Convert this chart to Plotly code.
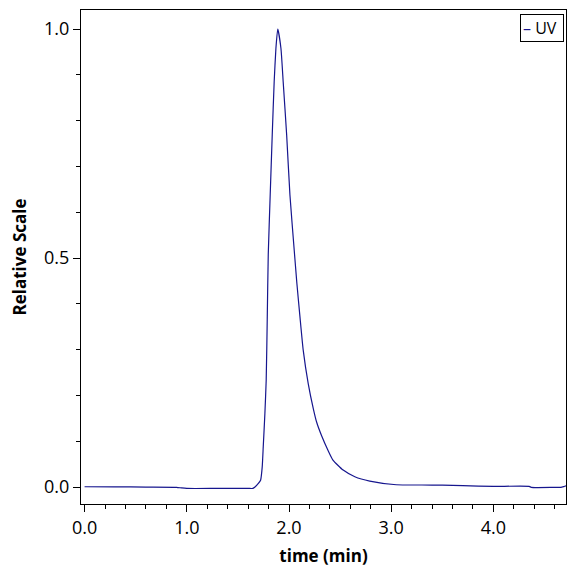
import plotly.graph_objects as go

# Data (UV trace, relative scale)
time_min = [0.0, 0.3, 0.6, 0.9, 0.95, 1.0, 1.3, 1.6, 1.647, 1.667, 1.70, 1.722,
            1.738, 1.748, 1.764, 1.777, 1.787, 1.797, 1.816, 1.836, 1.855, 1.872,
            1.89, 1.921, 1.943, 1.977, 2.009, 2.051, 2.077, 2.107, 2.139, 2.188,
            2.237, 2.27, 2.319, 2.38, 2.43, 2.53, 2.644, 2.79, 3.05, 3.3, 3.5,
            3.7, 4.0, 4.35, 4.37, 4.6, 4.66, 4.69, 4.72]
uv_signal = [0.0007, 0.0005, 0.0, -0.0005, -0.002, -0.003, -0.003, -0.003, -0.003,
             0.0, 0.008, 0.015, 0.044, 0.088, 0.16, 0.234, 0.365, 0.507, 0.638,
             0.769, 0.885, 0.958, 1.0, 0.958, 0.885, 0.769, 0.638, 0.517, 0.445,
             0.372, 0.299, 0.226, 0.172, 0.142, 0.112, 0.081, 0.059, 0.037,
             0.0225, 0.013, 0.005, 0.0045, 0.004, 0.003, 0.0015, 0.0015,
             -0.0007, -0.0007, -0.0007, 0.001, 0.003]

x_ticks = [0, 1, 2, 3, 4]
x_tick_labels = ["0.0", "1.0", "2.0", "3.0", "4.0"]
y_ticks = [0, 0.5, 1.0]
y_tick_labels = ["0.0", "0.5", "1.0"]

LINE_COLOR = "#16168e"
FONT = "Open Sans"

fig = go.Figure()
fig.add_trace(go.Scatter(
    x=time_min, y=uv_signal, mode="lines", name="UV",
    line=dict(color=LINE_COLOR, width=1.2, shape="spline", smoothing=0.5),
    showlegend=False,
))

axis_common = dict(
    showline=True, linecolor="black", linewidth=1, mirror=True,
    showgrid=False, zeroline=False, ticks="outside", ticklen=7,
    tickcolor="black", tickwidth=1,
    tickfont=dict(family=FONT, size=18, color="black"),
)

fig.update_xaxes(
    range=[-0.035, 4.71], tickvals=x_ticks, ticktext=x_tick_labels,
    minor=dict(dtick=0.2, tick0=0, ticks="outside", ticklen=4, tickcolor="black"),
    title=dict(text="<b>time (min)</b>", font=dict(family=FONT, size=17, color="black"),
               standoff=12),
    **axis_common,
)
fig.update_yaxes(
    range=[-0.037, 1.0415], tickvals=y_ticks, ticktext=y_tick_labels,
    minor=dict(dtick=0.1, tick0=0, ticks="outside", ticklen=4, tickcolor="black"),
    title=dict(text="<b>Relative Scale</b>", font=dict(family=FONT, size=17, color="black"),
               standoff=13),
    **axis_common,
)

fig.add_annotation(
    xref="paper", yref="paper", x=0.995, y=0.992, xanchor="right", yanchor="top",
    text=f"<span style='color:{LINE_COLOR}'>–</span> UV ",
    showarrow=False, font=dict(family=FONT, size=16, color="black"),
    bordercolor="black", borderwidth=1, borderpad=2, bgcolor="white",
)

fig.update_layout(
    width=576, height=576,
    margin=dict(l=81, r=10, t=10, b=72),
    paper_bgcolor="white", plot_bgcolor="white",
    font=dict(family=FONT),
)

fig.write_html("out.html")
